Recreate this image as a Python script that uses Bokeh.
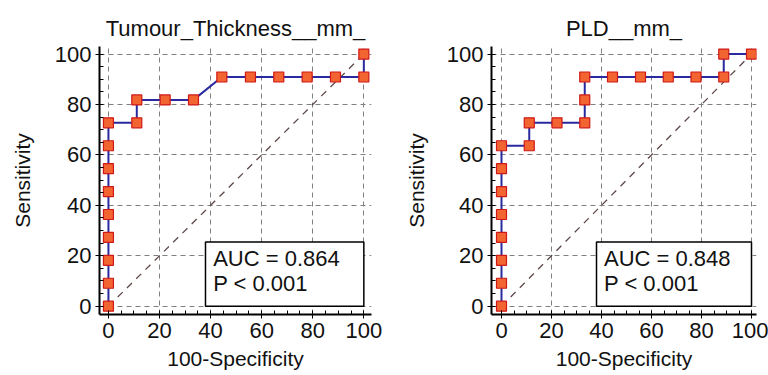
from bokeh.plotting import figure
from bokeh.layouts import row
from bokeh.models import Range1d, BoxAnnotation, Label, FixedTicker
from bokeh.embed import file_html
from bokeh.resources import INLINE

# Data: ROC curve points (100-Specificity, Sensitivity)
tt_x = [0, 0, 0, 0, 0, 0, 0, 0, 0, 11.1, 11.1, 22.2, 33.3, 44.4, 55.6, 66.7, 77.8, 88.9, 100, 100]
tt_y = [0, 9.09, 18.18, 27.27, 36.36, 45.45, 54.55, 63.64, 72.73, 72.73, 81.82, 81.82, 81.82,
        90.91, 90.91, 90.91, 90.91, 90.91, 90.91, 100]
pld_x = [0, 0, 0, 0, 0, 0, 0, 0, 11.1, 11.1, 22.2, 33.3, 33.3, 33.3, 44.4, 55.6, 66.7, 77.8, 88.9, 88.9, 100]
pld_y = [0, 9.09, 18.18, 27.27, 36.36, 45.45, 54.55, 63.64, 63.64, 72.73, 72.73, 72.73, 81.82,
         90.91, 90.91, 90.91, 90.91, 90.91, 90.91, 100, 100]
titles = ["Tumour_Thickness__mm_", "PLD__mm_"]
auc_texts = ["AUC = 0.864", "AUC = 0.848"]
p_texts = ["P < 0.001", "P < 0.001"]
ticks = [0, 20, 40, 60, 80, 100]

FONT = "Liberation Sans"


def make(xs, ys, title, auc, ptxt, left_border, right_border, xr, standoff):
    p = figure(width=384, height=372, output_backend="svg", toolbar_location=None,
               x_range=Range1d(*xr), y_range=Range1d(-3.3, 103),
               min_border_left=left_border, min_border_right=right_border,
               min_border_top=46, min_border_bottom=49)
    p.title.text = title
    p.title.align = "center"
    p.title.vertical_align = "top"
    p.title.text_font = FONT
    p.title.text_font_size = "22px"
    p.title.text_font_style = "normal"
    p.title.text_color = "#111111"
    p.title.standoff = 7
    p.outline_line_color = None
    p.background_fill_color = "white"
    p.border_fill_color = "white"

    for ax in (p.xaxis[0], p.yaxis[0]):
        ax.ticker = FixedTicker(ticks=ticks, minor_ticks=list(range(0, 101, 5)))
        ax.major_label_text_font = FONT
        ax.major_label_text_font_size = "22px"
        ax.major_label_text_color = "#111111"
        ax.axis_label_text_font = FONT
        ax.axis_label_text_font_size = "21px"
        ax.axis_label_text_font_style = "normal"
        ax.axis_label_text_color = "#111111"
        ax.axis_line_color = "black"
        ax.axis_line_width = 2
        ax.major_tick_line_color = "black"
        ax.major_tick_in = 0
        ax.major_tick_out = 4
        ax.minor_tick_line_color = "black"
        ax.minor_tick_in = 4
        ax.minor_tick_out = 0
        ax.major_label_standoff = 4
    p.xaxis.axis_label = "100-Specificity"
    p.yaxis.axis_label = "Sensitivity"
    p.yaxis.axis_label_standoff = standoff
    p.xaxis.axis_label_standoff = 6

    for g in (p.xgrid[0], p.ygrid[0]):
        g.ticker = FixedTicker(ticks=ticks)
        g.grid_line_color = "#808080"
        g.grid_line_dash = "5 4"
        g.grid_line_width = 1

    p.line([0, 100], [0, 100], line_color="#5e4848", line_dash="7 6", line_width=1.3)

    box = BoxAnnotation(left=38, right=100, bottom=0, top=25.5, fill_color="white",
                        fill_alpha=1, line_color="black", line_alpha=1, line_width=1.5,
                        level="overlay")
    p.add_layout(box)
    p.add_layout(Label(x=41, y=18.9, text=auc, text_font=FONT, text_font_size="22px",
                       text_baseline="middle", text_color="#111111", level="overlay"))
    p.add_layout(Label(x=41, y=8.8, text=ptxt, text_font=FONT, text_font_size="22px",
                       text_baseline="middle", text_color="#111111", level="overlay"))

    p.line(xs, ys, line_color="#2a2aa0", line_width=2)
    p.scatter(xs, ys, marker="square", size=10, fill_color="#f26430",
              line_color="#d01818", line_width=1.2)
    return p


p1 = make(tt_x, tt_y, titles[0], auc_texts[0], p_texts[0], 99, 13, (-3.5, 103), 18)
p2 = make(pld_x, pld_y, titles[1], auc_texts[1], p_texts[1], 107, 12, (-4, 102), 16)

layout = row(p1, p2, spacing=0)
open("out.html", "w").write(file_html(layout, INLINE))
